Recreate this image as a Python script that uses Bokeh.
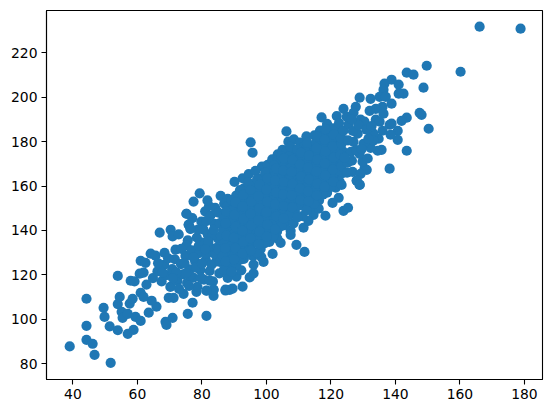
from bokeh.embed import file_html
from bokeh.models import FixedTicker, Range1d
from bokeh.plotting import figure
from bokeh.resources import INLINE

x_ticks = [40, 60, 80, 100, 120, 140, 160, 180]
y_ticks = [80, 100, 120, 140, 160, 180, 200, 220]

low_tail = [(39.0,87.7),(44.2,109.2),(44.2,97.0),(44.2,90.7),(46.1,88.9),(46.7,83.9),(51.7,80.3),(49.5,105.1),
    (49.8,101.0),(51.4,96.7),(53.9,95.0),(53.9,119.5),(54.5,110.0),(53.9,106.8),(55.1,103.3),(55.4,100.6),
    (57.0,102.4),(57.0,93.4),(58.8,95.2),(57.6,107.0),(58.5,109.2),(59.4,101.0),(61.0,99.2),(63.5,102.9),
    (65.9,105.6),(64.4,108.3),(61.0,111.9),(61.9,110.0),(57.9,117.3),(59.1,117.0),(62.8,115.6),(60.7,120.5),
    (61.9,121.0),(61.0,126.3),(62.5,125.4),(64.1,129.5),(65.6,128.6),(68.4,129.9),(71.8,131.3),(66.9,139.0),
    (70.3,140.3),(70.9,137.3),(72.8,138.2),(75.2,147.5),(75.9,142.6),(76.5,140.8),(75.6,135.5),(75.2,133.2),
    (68.7,98.8),(69.0,97.4),(70.9,100.6),(75.6,102.4),(77.1,107.4),(81.4,101.5),(69.7,109.6),(71.2,109.6),
    (74.3,111.4),(78.3,112.3),(81.4,112.8),(83.6,113.2),(83.6,110.5),(87.3,112.9),(88.6,113.2)]

lower_cluster = [(64.8,118.5),(66.2,121.5),(67.5,117.0),(68.3,124.5),(69.0,119.8),(70.2,114.5),(70.8,122.5),(71.6,127.0),
    (72.4,117.2),(72.9,113.6),(73.5,124.8),(74.2,120.2),(74.9,128.5),(75.4,116.3),(76.1,122.4),(76.8,131.0),
    (77.3,118.7),(77.9,126.0),(78.6,114.6),(79.1,129.7),(79.5,122.1),(80.2,134.5),(80.6,117.8),(81.2,126.6),
    (81.8,138.2),(82.4,121.7),(82.9,131.9),(83.4,117.0),(83.9,143.0),(84.5,126.0),(85.0,136.3),(85.4,120.6),
    (78.4,136.8),(79.8,144.0),(81.0,148.6),(82.2,151.0),(77.0,145.5),(73.6,131.7),(66.4,125.2),(69.5,127.4),
    (72.1,121.0),(74.6,125.3),(76.3,119.6),(78.2,123.2),(79.7,118.6),(81.5,129.4),(83.0,124.6),(80.5,140.3),
    (82.6,146.6),(84.7,132.2),(83.3,137.7),(79.0,133.0),(77.4,127.8),(75.1,120.7),(80.0,125.0),(82.0,134.9),
    (84.2,129.0),(81.0,131.6),(83.7,140.3),(78.8,140.4),(81.3,144.2),(76.0,115.0),(71.0,118.5),(67.8,121.0)]

upper_edge = [(95.1,179.7),(95.7,175.0),(106.2,184.6),(79.3,156.7),(77.4,153.0),(75.2,147.5),(75.9,142.5),(76.4,140.7),
    (90.1,161.9),(85.8,155.6),(88.0,154.2),(81.7,153.5),(98.6,168.8),(103.5,174.3),(112.4,182.4),(114.9,182.8),
    (117.1,190.9),(92.6,163.5),(94.5,165.4),(96.6,166.8),(100.4,169.5),(101.8,172.0),(105.0,176.3),(106.8,180.0),
    (108.5,181.0),(110.4,179.6),(86.9,152.1),(84.1,150.2)]

lower_edge = [(111.5,141.2),(107.5,139.8),(107.5,138.0),(109.3,133.5),(111.8,130.3),(99.1,125.8),(101.9,129.4),(104.4,134.4),
    (122.4,154.7),(118.3,146.6),(114.6,147.0),(123.9,148.8),(125.3,150.2),(128.0,162.4),(128.9,160.6),(92.6,114.7),
    (89.5,113.8),(87.3,113.3),(83.6,113.3),(81.4,112.9),(82.4,117.4),(90.7,119.2),(94.8,118.8),(96.0,120.6),
    (96.0,124.6),(92.2,122.0),(98.4,128.0),(103.4,136.3),(105.6,142.4),(116.2,149.8),(120.5,152.4),(113.0,144.3)]

core = [(85.6,125.8),(85.2,131.3),(85.9,137.5),(85.5,143.2),(85.1,148.0),
    (88.0,118.6),(88.3,124.6),(87.8,129.9),(88.2,135.3),(87.7,140.8),(88.4,146.1),(87.9,151.0),
    (90.6,124.3),(90.2,129.2),(90.8,134.4),(90.3,139.7),(90.7,145.0),(90.1,150.3),(90.6,155.7),
    (93.0,127.2),(93.4,132.7),(92.9,137.8),(93.5,143.3),(93.1,148.6),(93.6,153.8),(93.0,159.0),
    (95.8,128.4),(95.4,133.9),(96.0,139.2),(95.5,144.5),(96.1,149.9),(95.6,155.2),(96.2,160.5),
    (98.2,131.6),(98.6,136.9),(98.1,142.2),(98.7,147.4),(98.3,152.7),(98.8,158.0),(98.2,163.3),
    (100.9,134.8),(100.5,140.1),(101.0,145.4),(100.6,150.7),(101.1,156.0),(100.7,161.3),(101.2,166.5),
    (103.3,139.5),(103.7,144.8),(103.2,150.1),(103.8,155.3),(103.4,160.6),(103.9,165.9),(103.3,171.0),
    (106.0,144.4),(105.6,149.6),(106.1,155.0),(105.7,160.2),(106.2,165.5),(105.8,170.8),(106.3,175.9),
    (108.4,143.2),(108.8,148.5),(108.3,153.8),(108.9,159.0),(108.5,164.3),(109.0,169.6),(108.4,174.9),
    (111.2,146.4),(110.8,151.7),(111.3,157.0),(110.9,162.3),(111.4,167.6),(111.0,172.8),(111.5,177.5),
    (113.6,150.6),(114.0,155.9),(113.5,161.2),(114.1,166.4),(113.7,171.7),(114.2,177.0),
    (116.3,153.5),(115.9,158.8),(116.4,164.1),(116.0,169.4),(116.5,174.6),(116.1,179.9),(116.6,185.0),
    (118.8,157.0),(119.2,162.2),(118.7,167.5),(119.3,172.8),(118.9,178.1),(119.4,183.4),(118.8,188.0),
    (121.5,159.3),(121.1,164.6),(121.6,169.9),(121.2,175.2),(121.7,180.4),(121.3,185.7),(121.8,191.5),
    (123.6,165.8),(124.1,170.3),(123.7,175.6),(124.2,180.6)]

core_between = [(86.8,122.2),(86.5,128.6),(86.9,134.2),(86.6,140.1),(86.7,145.6),
    (89.2,121.4),(89.4,127.1),(89.0,132.7),(89.5,138.0),(89.1,143.4),(89.3,148.8),(89.2,153.5),
    (91.9,126.8),(91.6,131.9),(92.0,137.0),(91.5,142.4),(91.9,147.8),(91.7,153.0),(91.8,158.2),
    (94.3,130.4),(94.6,135.5),(94.2,140.6),(94.8,146.0),(94.4,151.2),(94.7,156.5),(94.3,161.6),
    (97.0,130.1),(96.8,136.5),(97.2,141.8),(96.7,147.1),(97.3,152.4),(96.9,157.7),(97.1,163.0),
    (99.5,134.2),(99.8,139.5),(99.4,144.8),(99.9,150.1),(99.5,155.3),(100.0,160.6),(99.6,165.9),
    (102.1,137.5),(101.7,142.8),(102.2,148.0),(101.8,153.4),(102.3,158.7),(101.9,164.0),(102.4,169.2),
    (104.6,141.9),(104.9,147.3),(104.5,152.6),(105.0,157.9),(104.6,163.2),(105.1,168.4),(104.7,173.4),
    (107.1,146.9),(106.9,152.2),(107.3,157.6),(106.9,162.8),(107.4,168.1),(107.0,173.4),(107.5,177.6),
    (109.6,145.9),(110.0,151.1),(109.5,156.4),(110.1,161.6),(109.7,166.9),(110.2,172.2),(109.6,176.4),
    (112.4,149.0),(112.0,154.3),(112.5,159.6),(112.1,164.9),(112.6,170.2),(112.2,175.4),(112.7,179.4),
    (114.8,152.0),(115.2,158.4),(114.7,163.7),(115.3,169.0),(114.9,174.3),(115.4,179.5),
    (117.5,156.1),(117.1,161.4),(117.6,166.7),(117.2,172.0),(117.7,177.2),(117.3,182.5),
    (120.0,159.6),(120.4,164.8),(119.9,170.1),(120.5,175.4),(120.1,180.7),(120.6,186.0),
    (122.7,162.0),(122.3,167.2),(122.8,172.5),(122.4,177.8),(122.9,183.0),(122.5,188.3)]

core_dense = [(87.4,126.0),(87.2,132.0),(87.6,137.6),(87.3,143.2),(87.5,148.6),
    (90.0,126.8),(90.4,132.0),(89.9,136.6),(90.5,141.6),(90.1,147.0),(90.4,152.6),
    (92.6,129.6),(92.8,134.8),(92.5,139.8),(92.9,145.2),(92.6,150.8),(92.8,156.0),
    (95.2,131.0),(95.0,136.4),(95.3,142.2),(95.1,147.4),(95.3,153.0),(95.0,158.2),
    (97.6,133.8),(97.9,139.4),(97.5,144.6),(97.8,150.0),(97.5,155.4),(97.9,160.6),
    (100.1,137.2),(100.3,142.6),(100.0,148.2),(100.3,153.0),(100.0,158.4),(100.3,163.6),
    (102.7,140.4),(103.0,146.4),(102.7,151.6),(103.0,157.0),(102.7,162.4),(103.0,167.8),
    (105.3,145.4),(105.4,151.0),(105.2,156.2),(105.4,161.8),(105.2,167.0),(105.4,172.4),
    (108.0,150.4),(107.8,155.8),(108.1,161.0),(107.8,166.4),(108.1,171.8),
    (110.6,153.6),(110.4,159.0),(110.7,164.4),(110.4,169.8),(110.7,175.0),
    (113.1,153.2),(112.9,157.6),(113.2,163.0),(112.9,168.2),(113.2,173.6),
    (115.6,155.8),(115.7,161.0),(115.5,166.6),(115.7,171.8),(115.5,177.2),(115.7,182.2),
    (118.1,159.6),(118.3,164.8),(118.1,170.2),(118.3,175.6),(118.1,180.8),(118.3,185.6),
    (120.8,162.0),(120.6,167.4),(120.9,172.8),(120.6,178.0),(120.9,183.2),
    (123.2,169.0),(123.0,174.0),(123.3,179.0),(123.1,181.6)]

high_side = [(166.1,231.8),(178.8,230.9),(160.2,211.5),(149.7,214.2),(143.5,211.1),(145.6,210.2),(148.7,204.3),(138.8,207.9),
    (136.6,206.1),(141.0,205.7),(142.5,201.6),(141.0,201.6),(136.3,203.4),(135.1,200.2),(137.0,200.2),(132.3,199.3),
    (128.9,199.8),(138.8,197.1),(136.0,195.7),(133.9,194.8),(132.0,193.9),(136.3,192.6),(127.7,195.7),(127.0,193.0),
    (147.5,193.0),(148.1,192.1),(143.5,190.8),(141.9,189.4),(150.3,185.8),(140.7,184.9),(138.2,187.6),(138.8,188.1),
    (133.9,189.9),(135.1,189.0),(129.2,189.9),(130.4,189.0),(140.7,180.8),(138.5,183.1),(134.8,181.3),(133.2,183.6),
    (136.0,184.9),(143.5,175.9),(135.7,176.3),(134.5,175.9),(132.3,177.2),(138.2,167.8),(130.4,167.8),(131.1,167.3),
    (126.7,166.4),(129.2,165.5),(128.0,162.4),(128.9,160.5),(129.8,171.0),(125.2,170.5),(128.9,174.5),(127.0,179.9),
    (123.9,185.0),(123.9,194.8),(123.3,160.5),(128.3,183.6),(130.1,179.0),(133.2,180.5),(126.2,175.4),(125.5,187.8),
    (125.0,166.0),(126.5,171.4),(127.8,176.2),(125.3,180.6),(126.8,184.8),(128.6,187.4),(124.9,191.2),(126.4,190.0),
    (131.4,172.4),(129.5,176.6),(131.6,181.2),(131.0,185.4),(132.6,187.0),(124.2,172.8)]

groups = [low_tail, lower_cluster, upper_edge, lower_edge, core, core_between, core_dense, high_side]
x_values = [pt[0] for g in groups for pt in g]
y_values = [pt[1] for g in groups for pt in g]

p = figure(width=544, height=405, output_backend="svg", toolbar_location=None,
           x_range=Range1d(31.8, 185.6), y_range=Range1d(72.8, 239.1),
           min_border_left=46, min_border_right=2, min_border_top=10, min_border_bottom=26)
p.scatter(x_values, y_values, size=10.2, color="#1f77b4", line_color=None)

p.grid.visible = False
p.outline_line_color = "black"
p.outline_line_width = 1.1
for ax, ticks in ((p.xaxis[0], x_ticks), (p.yaxis[0], y_ticks)):
    ax.ticker = FixedTicker(ticks=ticks)
    ax.axis_line_color = "black"
    ax.axis_line_width = 1.1
    ax.major_tick_line_color = "black"
    ax.major_tick_line_width = 1.1
    ax.major_tick_in = 0
    ax.major_tick_out = 5
    ax.minor_tick_line_color = None
    ax.major_label_text_font = "DejaVu Sans"
    ax.major_label_text_font_size = "13.9px"
    ax.major_label_text_color = "black"
    ax.major_label_standoff = 4
p.yaxis[0].major_label_orientation = "horizontal"

open("out.html", "w").write(file_html(p, INLINE))
